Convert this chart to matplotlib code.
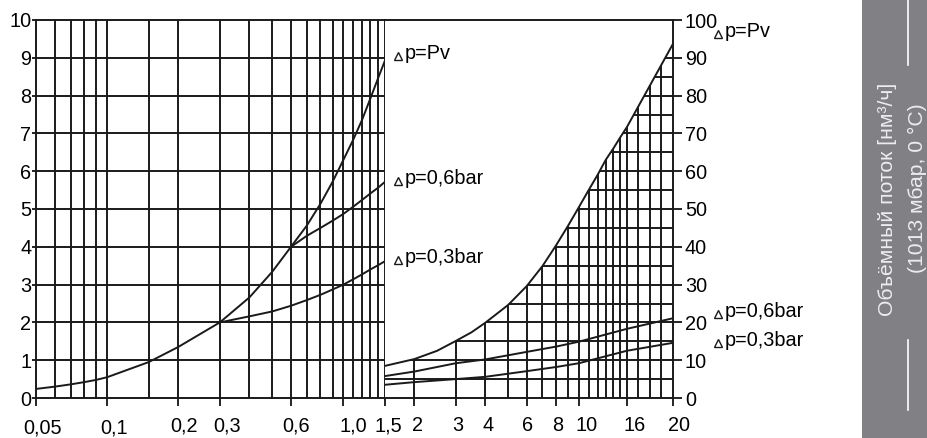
import numpy as np
import matplotlib
matplotlib.use('Agg')
import matplotlib.pyplot as plt
from matplotlib.patches import Polygon, Rectangle
from matplotlib.lines import Line2D
from matplotlib.ticker import NullLocator
from matplotlib.transforms import ScaledTranslation

plt.rcParams['font.family'] = ['Liberation Sans', 'DejaVu Sans']

W, H = 928, 438

# ---- left panel: 0,05 ... 1,5 (log), flow 0..10 ----
left_x = [0.05, 0.06, 0.07, 0.08, 0.09, 0.1, 0.15, 0.2, 0.3, 0.4, 0.5,
          0.6, 0.7, 0.8, 0.9, 1.0, 1.1, 1.2, 1.3, 1.4, 1.5]
left_pv = [0.24, 0.30, 0.36, 0.42, 0.48, 0.55, 0.95, 1.35, 2.0, 2.66, 3.34,
           4.0, 4.56, 5.14, 5.72, 6.3, 6.83, 7.36, 7.92, 8.45, 8.93]

left_06_x = [0.6, 0.7, 0.8, 0.9, 1.0, 1.1, 1.2, 1.3, 1.4, 1.5]
left_06 = [4.0, 4.29, 4.5, 4.69, 4.87, 5.06, 5.24, 5.41, 5.56, 5.72]

left_03_x = [0.3, 0.4, 0.5, 0.6, 0.7, 0.8, 0.9, 1.0, 1.1, 1.2, 1.3, 1.4, 1.5]
left_03 = [2.0, 2.16, 2.29, 2.44, 2.59, 2.73, 2.87, 3.0, 3.14, 3.27, 3.4, 3.51, 3.62]

left_grid_x = [0.06, 0.07, 0.08, 0.09, 0.1, 0.15, 0.2, 0.3, 0.4, 0.5,
               0.6, 0.7, 0.8, 0.9, 1.0, 1.1, 1.2, 1.3, 1.4]
left_ticks = [0.05, 0.1, 0.2, 0.3, 0.6, 1.0, 1.5]
left_tick_labels = ['0,05', '0,1', '0,2', '0,3', '0,6', '1,0', '1,5']

# ---- right panel: 1,5 ... 20, flow 0..100 ----
right_x = [1.5, 2, 2.5, 3, 3.5, 4, 5, 6, 7, 8, 9, 10, 11, 12, 13, 14, 15,
           16, 17, 18, 19, 20]
right_pv = [8.5, 10.3, 12.5, 15.1, 17.4, 19.9, 24.6, 29.6, 34.9, 40.4, 45.6,
            50.5, 55.0, 59.0, 63.0, 66.0, 69.0, 71.7, 77.2, 82.7, 88.2, 93.7]

right_low_x = [1.5, 2, 3, 4, 6, 8, 10, 16, 20]
right_06 = [5.8, 7.0, 9.2, 10.2, 12.2, 13.6, 14.9, 18.3, 21.1]
right_03 = [3.5, 4.2, 5.0, 5.6, 7.1, 8.2, 9.2, 12.5, 14.6]

right_grid_x = [2, 3, 4, 5, 6, 7, 8, 9, 10, 11, 12, 13, 14, 15, 16, 17, 18, 19]
right_grid_y = list(range(5, 100, 5))
right_ticks = [2, 3, 4, 6, 8, 10, 16, 20]
right_tick_labels = ['2', '3', '4', '6', '8', '10', '16', '20']

# the printed axis is log up to 16, then stretched to 20
LOG16 = np.log10(16)
K = 0.0489


def fwd(x):
    x = np.asarray(x, dtype=float)
    return np.where(x <= 16, np.log10(np.clip(x, 1e-6, None)), LOG16 + (x - 16) * K)


def inv(y):
    y = np.asarray(y, dtype=float)
    return np.where(y <= LOG16, 10 ** np.minimum(y, LOG16), 16 + (y - LOG16) / K)


def box(x0, y0, x1, y1):
    return [x0 / W, 1 - y1 / H, (x1 - x0) / W, (y1 - y0) / H]


def px(dx, dy):
    return ScaledTranslation(dx / 100, -dy / 100, fig.dpi_scale_trans)


INK = '#1a1a1a'
GLW = 1.4
CLW = 1.4
FS = 14.3

fig = plt.figure(figsize=(W / 100, H / 100), dpi=100)
ax1 = fig.add_axes(box(36, 20, 385, 398))
ax2 = fig.add_axes(box(385, 20, 673, 398))

# left panel
ax1.set_xscale('log')
ax1.set_xlim(0.05, 1.5)
ax1.set_ylim(0, 10)
ax1.vlines(left_grid_x, 0, 10, colors=INK, lw=GLW, zorder=1)
ax1.hlines(range(1, 10), 0.05, 1.5, colors=INK, lw=GLW, zorder=1)
ax1.plot(left_x, left_pv, color=INK, lw=CLW, zorder=3)
ax1.plot(left_06_x, left_06, color=INK, lw=CLW, zorder=3)
ax1.plot(left_03_x, left_03, color=INK, lw=CLW, zorder=3)
ax1.set_xticks(left_ticks)
ax1.xaxis.set_minor_locator(NullLocator())
ax1.set_yticks(range(11))
ax1.tick_params(axis='x', direction='out', length=5.5, width=1.2, labelbottom=False)
ax1.tick_params(axis='y', direction='out', length=3, width=1.2, pad=0.5, labelsize=FS)
for s in ax1.spines.values():
    s.set_linewidth(GLW)
    s.set_color(INK)

left_dx = [6.5, 6.5, 6, 7, 5.5, 10, 3]
left_dy = [21, 21, 18, 18, 18, 18, 18]
for x, lab, dx, dy in zip(left_ticks, left_tick_labels, left_dx, left_dy):
    ax1.text(x, 0, lab, ha='center', va='top', fontsize=FS,
             transform=ax1.get_xaxis_transform() + px(dx, dy))

# right panel
ax2.set_xscale('function', functions=(fwd, inv))
ax2.set_xlim(1.5, 20)
ax2.set_ylim(0, 100)
clip = Polygon(list(zip(right_x, right_pv)) + [(20, 0), (1.5, 0)], closed=True,
               transform=ax2.transData, facecolor='none', edgecolor='none')
vl = ax2.vlines(right_grid_x, 0, 100, colors=INK, lw=GLW, zorder=1)
hl = ax2.hlines(right_grid_y, 1.5, 20, colors=INK, lw=GLW, zorder=1)
vl.set_clip_path(clip)
hl.set_clip_path(clip)
ax2.plot(right_x, right_pv, color=INK, lw=CLW, zorder=3)
ax2.plot(right_low_x, right_06, color=INK, lw=CLW, zorder=3)
ax2.plot(right_low_x, right_03, color=INK, lw=CLW, zorder=3)
ax2.set_xticks(right_ticks)
ax2.xaxis.set_minor_locator(NullLocator())
ax2.set_yticks(range(0, 101, 10))
ax2.yaxis.tick_right()
ax2.tick_params(axis='x', direction='out', length=5.5, width=1.2, labelbottom=False)
ax2.tick_params(axis='y', direction='out', length=6.5, width=1.2, pad=2, labelsize=FS)
ax2.spines['left'].set_visible(False)
for s in ax2.spines.values():
    s.set_linewidth(GLW)
    s.set_color(INK)

right_dx = [3, 2, 3, 1, 2, 8, 8, 6]
for x, lab, dx in zip(right_ticks, right_tick_labels, right_dx):
    ax2.text(x, 0, lab, ha='center', va='top', fontsize=FS,
             transform=ax2.get_xaxis_transform() + px(dx, 18))


# curve tags: small triangle + text, positions in pixels (baseline)
def tag(x, y, s):
    fig.add_artist(Line2D([(x + 3.5) / W], [1 - (y - 3.5) / H], marker='^', ms=5.5,
                          mfc='white', mec=INK, mew=1.0, transform=fig.transFigure))
    fig.text((x + 10) / W, 1 - y / H, s, ha='left', va='baseline', fontsize=FS)


tag(395, 59, 'p=Pv')
tag(395, 184, 'p=0,6bar')
tag(395, 263, 'p=0,3bar')
tag(715, 37, 'p=Pv')
tag(715, 317, 'p=0,6bar')
tag(715, 346, 'p=0,3bar')

# grey side band with the axis title
fig.add_artist(Rectangle((862 / W, 0), 66 / W, 1, transform=fig.transFigure,
                         facecolor='#818185', edgecolor='none', zorder=0))
fig.add_artist(Line2D([908 / W] * 2, [1, 1 - 65 / H], color='white', lw=1.2,
                      transform=fig.transFigure))
fig.add_artist(Line2D([908 / W] * 2, [1 - 340 / H, 1 - 410 / H], color='white', lw=1.2,
                      transform=fig.transFigure))
fig.text(888 / W, 1 - 199 / H, 'Объёмный поток [нм³/ч]', rotation=90,
         ha='center', va='center', color='#ededed', fontsize=15.2)
fig.text(917 / W, 1 - 188 / H, '(1013 мбар, 0 °C)', rotation=90,
         ha='center', va='center', color='#ededed', fontsize=15.2)

fig.savefig('out.png', dpi=100)
